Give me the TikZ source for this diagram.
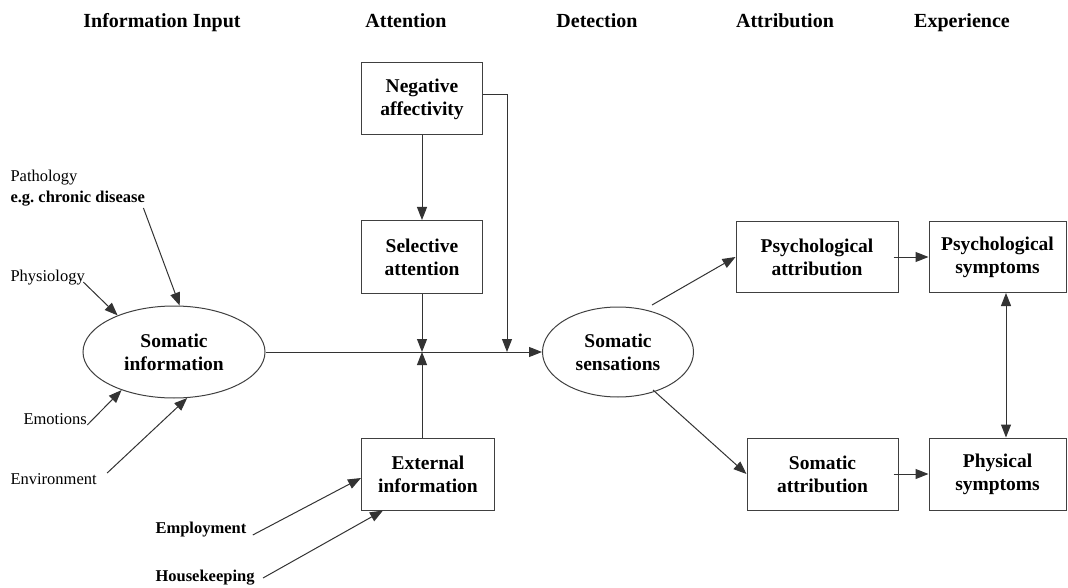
\documentclass[tikz,border=0pt]{standalone}
\usepackage{fontspec}
\setmainfont{Liberation Serif}
\usetikzlibrary{arrows.meta,shapes.geometric}
\frenchspacing
\begin{document}
\begin{tikzpicture}[x=1pt,y=-1pt,
  line width=1pt,
  box/.style={draw=black!75, line width=1pt, inner sep=0pt, align=center,
    font=\fontsize{19.5}{23}\selectfont\bfseries},
  oval/.style={ellipse, draw=black!75, line width=1pt, inner sep=0pt, align=center,
    font=\fontsize{19.5}{23}\selectfont\bfseries},
  head/.style={anchor=base, inner sep=0pt, font=\fontsize{20}{24}\selectfont\bfseries},
  lab/.style={anchor=base west, inner sep=0pt, font=\fontsize{16.5}{20}\selectfont},
  blab/.style={lab, font=\fontsize{16.5}{20}\selectfont\bfseries},
  arr/.style={draw=black!80, -{Triangle[length=13pt,width=10pt]}},
  darr/.style={draw=black!80, {Triangle[length=13pt,width=10pt]}-{Triangle[length=13pt,width=10pt]}},
]
\useasboundingbox (0,0) rectangle (1068,588);

% stage headings
\node[head] (h1) at (162,28) {Information Input};
\node[head] (h2) at (406,28) {Attention};
\node[head] (h3) at (597,28) {Detection};
\node[head] (h4) at (785,28) {Attribution};
\node[head] (h5) at (962,28) {Experience};

% boxes
\node[box, minimum width=121pt, minimum height=72pt] (na) at (422,99) {Negative\\affectivity};
\node[box, minimum width=121pt, minimum height=73pt] (sa) at (422,257) {Selective\\attention};
\node[box, minimum width=133pt, minimum height=72pt] (ei) at (428,474) {External\\information};
\node[box, minimum width=162pt, minimum height=71pt] (pa) at (817,257) {Psychological\\attribution};
\node[box, minimum width=137pt, minimum height=71pt] (ps) at (997.5,257) {Psychological\\symptoms};
\node[box, minimum width=151pt, minimum height=72pt] (sma) at (822.5,474) {Somatic\\attribution};
\node[box, minimum width=137pt, minimum height=72pt] (phs) at (997.5,474) {Physical\\symptoms};

% ellipses
\node[oval, minimum width=182pt, minimum height=92pt] (si) at (174,352) {Somatic\\information};
\node[oval, minimum width=151pt, minimum height=90pt] (ss) at (618,352) {Somatic\\sensations};

% input labels
\node[lab]  (path) at (10,182) {Pathology};
\node[blab] (eg)   at (10,203) {e.g. chronic disease};
\node[lab]  (phys) at (10,281) {Physiology};
\node[lab]  (emo)  at (23,424) {Emotions};
\node[lab]  (env)  at (10,484) {Environment};
\node[blab] (emp)  at (155,533) {Employment};
\node[blab] (hk)   at (155,581) {Housekeeping};

% junction points on the main line
\coordinate (j) at (422,352);
\coordinate (k) at (507,352);

% main flow
\draw[arr] (si.east) -- (ss.west);
\draw[arr] (sa.south) -- (j);
\draw[arr] (ei.north -| j) -- (j);
\draw[arr] ([yshift=4pt]na.east) -| (k);
\draw[arr] (na.south) -- (sa.north);

% inputs to somatic information
\draw[arr] ([shift={(-2,5)}]eg.base east) -- (si.83);
\draw[arr] ([shift={(-2,1)}]phys.base east) -- (si.147);
\draw[arr] ([shift={(0,1)}]emo.base east) -- (si.216);
\draw[arr] ([shift={(10,-11)}]env.base east) -- (si.286);

% inputs to external information
\draw[arr] ([shift={(6,2)}]emp.base east) -- ([yshift=-4pt]ei.west);
\draw[arr] ([shift={(8,-3)}]hk.base east) -- ([xshift=-45pt]ei.south);

% attribution and experience
\draw[arr] ([shift={(34,-47)}]ss.center) -- (pa.west);
\draw[arr] ([shift={(35,38)}]ss.center) -- (sma.west);
\draw[arr] ([xshift=-5pt]pa.east) -- (ps.west);
\draw[arr] ([xshift=-5pt]sma.east) -- (phs.west);
\draw[darr] ([xshift=8.5pt]ps.south) -- ([xshift=8.5pt]phs.north);
\end{tikzpicture}
\end{document}
